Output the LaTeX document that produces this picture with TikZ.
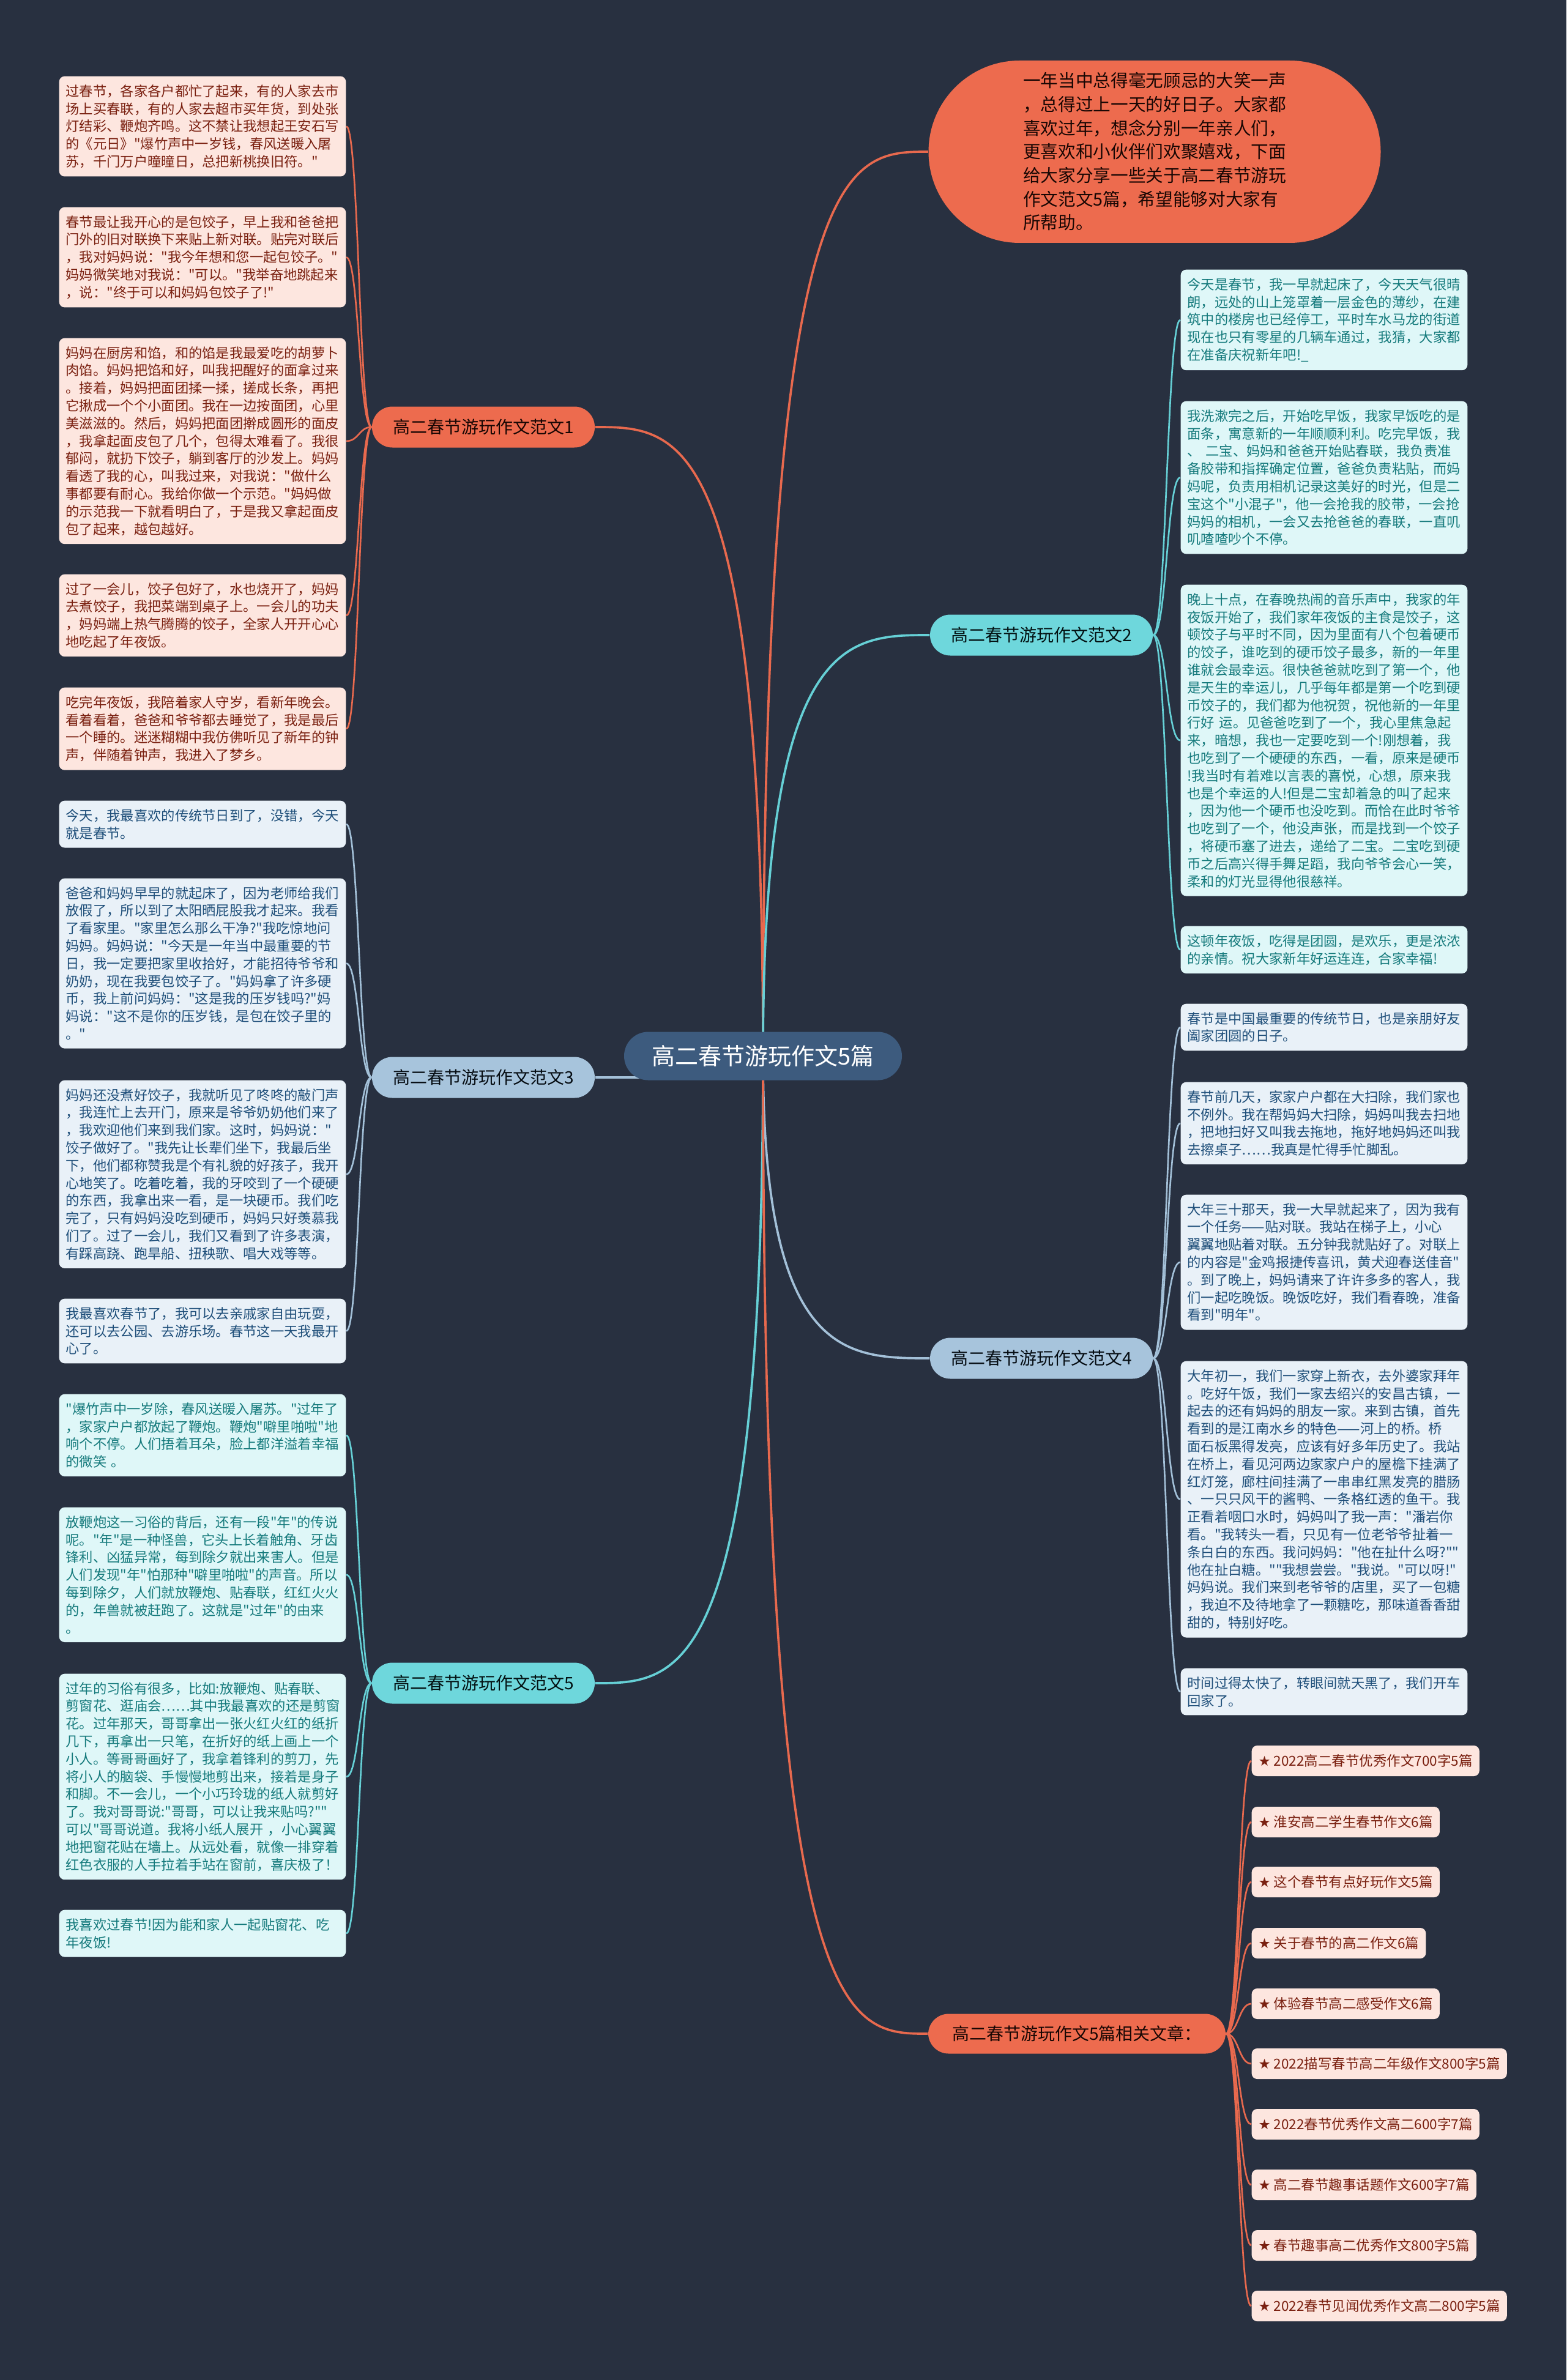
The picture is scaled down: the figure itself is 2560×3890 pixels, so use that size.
\documentclass[tikz,border=0pt]{standalone}
\usepackage{fontspec}
\setmainfont{Noto Sans CJK SC}[Ligatures=TeXOff]
\newfontfamily\symfont{DejaVu Sans}
\usetikzlibrary{calc}
\pgfdeclarelayer{back}
\pgfdeclarelayer{bg}
\pgfsetlayers{back,bg,main}
\definecolor{bgc}{HTML}{283040}
\definecolor{rfill}{HTML}{FDE6DF}
\definecolor{rtext}{HTML}{7A2010}
\definecolor{bfill}{HTML}{E9F1F8}
\definecolor{btext}{HTML}{1F4F7A}
\definecolor{cfill}{HTML}{DFF7F8}
\definecolor{ctext}{HTML}{157A7C}
\definecolor{rmain}{HTML}{ED6B4E}
\definecolor{cmain}{HTML}{6ED7DC}
\definecolor{bmain}{HTML}{A7C4DC}
\definecolor{cent}{HTML}{3D5B7E}
\definecolor{rline}{HTML}{E8694E}
\definecolor{cline}{HTML}{66D0D6}
\definecolor{bline}{HTML}{A3C0D8}
\newcommand\bodyfont{\fontsize{6.69pt}{8.64pt}\selectfont}
\newcommand\branchfont{\fontsize{8.4pt}{10pt}\selectfont}
\newcommand\curvelink[3]{%
  \draw[#1] let \p1=(#2), \p2=(#3) in (\p1) .. controls ({0.5*\x1+0.5*\x2},\y1) and ({0.5*\x1+0.5*\x2},\y2) .. (\p2);}
\newcommand\centerlink[3]{%
  \draw[#1] let \p1=(#2), \p2=(#3) in (\p1) .. controls (\x1,\y2) and ({0.5*\x1+0.5*\x2},\y2) .. (\p2);}
\tikzset{
  box/.style={anchor=north west, rounded corners=2.7pt, text width=134pt, inner xsep=3.3pt, inner ysep=4.1pt, align=left, font=\bodyfont},
  rbox/.style={box, fill=rfill, text=rtext},
  bbox/.style={box, fill=bfill, text=btext},
  cbox/.style={box, fill=cfill, text=ctext},
  branch/.style={rounded corners=10pt, minimum width=109.2pt, minimum height=20.1pt, font=\branchfont, inner sep=0pt},
  item/.style={anchor=west, fill=rfill, text=rtext, rounded corners=2.7pt, minimum height=15pt, inner xsep=3.3pt, inner ysep=0pt, font=\fontsize{6.75pt}{8pt}\selectfont},
  link/.style={line width=1.1pt},
  sublink/.style={line width=0.8pt},
}
\begin{document}
\begin{tikzpicture}[x=0.3pt,y=-0.3pt]
\begin{pgfonlayer}{back}
\fill[bgc] (0,0) rectangle (2560,3890);
\end{pgfonlayer}
\useasboundingbox (0,0) rectangle (2560,3890);

% centre and branches
\node[rounded corners=11.8pt, fill=cent, text=white, minimum width=136.2pt, minimum height=23.7pt, inner sep=0pt, font=\fontsize{11.4pt}{13pt}\selectfont] (c) at (1247,1726) {高二春节游玩作文5篇};
\node[rounded corners=44.7pt, fill=rmain, text=black!80!rtext, minimum width=221.7pt, minimum height=89.4pt, align=left, font=\fontsize{8.6pt}{11.6pt}\selectfont] (e) at (1887,248) {一年当中总得毫无顾忌的大笑一声\\，总得过上一天的好日子。大家都\\喜欢过年，想念分别一年亲人们，\\更喜欢和小伙伴们欢聚嬉戏，下面\\给大家分享一些关于高二春节游玩\\作文范文5篇，希望能够对大家有\\所帮助。};
\node[branch, fill=rmain, text=black!80!rtext] (b1) at (790,698) {高二春节游玩作文范文1};
\node[branch, fill=cmain, text=black!85!ctext] (b2) at (1702,1038) {高二春节游玩作文范文2};
\node[branch, fill=bmain, text=black!85!btext] (b3) at (790,1761) {高二春节游玩作文范文3};
\node[branch, fill=bmain, text=black!85!btext] (b4) at (1702,2220) {高二春节游玩作文范文4};
\node[branch, fill=cmain, text=black!85!ctext] (b5) at (790,2751) {高二春节游玩作文范文5};
\node[branch, fill=rmain, text=black!80!rtext, minimum width=145.8pt, minimum height=19.5pt] (rel) at (1760,3324) {高二春节游玩作文5篇相关文章：};

% left column
\node[rbox] (l1) at (96,124) {过春节，各家各户都忙了起来，有的人家去市\\场上买春联，有的人家去超市买年货，到处张\\灯结彩、鞭炮齐鸣。这不禁让我想起王安石写\\的《元日》"爆竹声中一岁钱，春风送暖入屠\\苏，千门万户曈曈日，总把新桃换旧符。"};
\node[rbox] (l2) at (96,338) {春节最让我开心的是包饺子，早上我和爸爸把\\门外的旧对联换下来贴上新对联。贴完对联后\\，我对妈妈说："我今年想和您一起包饺子。"\\妈妈微笑地对我说："可以。"我举奋地跳起来\\，说："终于可以和妈妈包饺子了!"};
\node[rbox] (l3) at (96,552) {妈妈在厨房和馅，和的馅是我最爱吃的胡萝卜\\肉馅。妈妈把馅和好，叫我把醒好的面拿过来\\。接着，妈妈把面团揉一揉，搓成长条，再把\\它揪成一个个小面团。我在一边按面团，心里\\美滋滋的。然后，妈妈把面团擀成圆形的面皮\\，我拿起面皮包了几个，包得太难看了。我很\\郁闷，就扔下饺子，躺到客厅的沙发上。妈妈\\看透了我的心，叫我过来，对我说："做什么\\事都要有耐心。我给你做一个示范。"妈妈做\\的示范我一下就看明白了，于是我又拿起面皮\\包了起来，越包越好。};
\node[rbox] (l4) at (96,938) {过了一会儿，饺子包好了，水也烧开了，妈妈\\去煮饺子，我把菜端到桌子上。一会儿的功夫\\，妈妈端上热气腾腾的饺子，全家人开开心心\\地吃起了年夜饭。};
\node[rbox] (l5) at (96,1123) {吃完年夜饭，我陪着家人守岁，看新年晚会。\\看着看着，爸爸和爷爷都去睡觉了，我是最后\\一个睡的。迷迷糊糊中我仿佛听见了新年的钟\\声，伴随着钟声，我进入了梦乡。};
\node[bbox] (l6) at (96,1308) {今天，我最喜欢的传统节日到了，没错，今天\\就是春节。};
\node[bbox] (l7) at (96,1435) {爸爸和妈妈早早的就起床了，因为老师给我们\\放假了，所以到了太阳晒屁股我才起来。我看\\了看家里。"家里怎么那么干净?"我吃惊地问\\妈妈。妈妈说："今天是一年当中最重要的节\\日，我一定要把家里收拾好，才能招待爷爷和\\奶奶，现在我要包饺子了。"妈妈拿了许多硬\\币，我上前问妈妈："这是我的压岁钱吗?"妈\\妈说："这不是你的压岁钱，是包在饺子里的\\。"};
\node[bbox] (l8) at (96,1765) {妈妈还没煮好饺子，我就听见了咚咚的敲门声\\，我连忙上去开门，原来是爷爷奶奶他们来了\\，我欢迎他们来到我们家。这时，妈妈说："\\饺子做好了。"我先让长辈们坐下，我最后坐\\下，他们都称赞我是个有礼貌的好孩子，我开\\心地笑了。吃着吃着，我的牙咬到了一个硬硬\\的东西，我拿出来一看，是一块硬币。我们吃\\完了，只有妈妈没吃到硬币，妈妈只好羡慕我\\们了。过了一会儿，我们又看到了许多表演，\\有踩高跷、跑旱船、扭秧歌、唱大戏等等。};
\node[bbox] (l9) at (96,2122) {我最喜欢春节了，我可以去亲戚家自由玩耍，\\还可以去公园、去游乐场。春节这一天我最开\\心了。};
\node[cbox] (l10) at (96,2278) {"爆竹声中一岁除，春风送暖入屠苏。"过年了\\，家家户户都放起了鞭炮。鞭炮"噼里啪啦"地\\响个不停。人们捂着耳朵，脸上都洋溢着幸福\\的微笑 。};
\node[cbox] (l11) at (96,2463) {放鞭炮这一习俗的背后，还有一段"年"的传说\\呢。"年"是一种怪兽，它头上长着触角、牙齿\\锋利、凶猛异常，每到除夕就出来害人。但是\\人们发现"年"怕那种"噼里啪啦"的声音。所以\\每到除夕，人们就放鞭炮、贴春联，红红火火\\的，年兽就被赶跑了。这就是"过年"的由来\\。};
\node[cbox] (l12) at (96,2735) {过年的习俗有很多，比如:放鞭炮、贴春联、\\剪窗花、逛庙会……其中我最喜欢的还是剪窗\\花。过年那天，哥哥拿出一张火红火红的纸折\\几下，再拿出一只笔，在折好的纸上画上一个\\小人。等哥哥画好了，我拿着锋利的剪刀，先\\将小人的脑袋、手慢慢地剪出来，接着是身子\\和脚。不一会儿，一个小巧玲珑的纸人就剪好\\了。我对哥哥说:"哥哥，可以让我来贴吗?""\\可以"哥哥说道。我将小纸人展开~，小心翼翼\\地把窗花贴在墙上。从远处看，就像一排穿着\\红色衣服的人手拉着手站在窗前，喜庆极了！};
\node[cbox] (l13) at (96,3121) {我喜欢过春节!因为能和家人一起贴窗花、吃\\年夜饭!};

% right column
\node[cbox] (r1) at (1929,440) {今天是春节，我一早就起床了，今天天气很晴\\朗，远处的山上笼罩着一层金色的薄纱，在建\\筑中的楼房也已经停工，平时车水马龙的街道\\现在也只有零星的几辆车通过，我猜，大家都\\在准备庆祝新年吧!\_};
\node[cbox] (r2) at (1929,655) {我洗漱完之后，开始吃早饭，我家早饭吃的是\\面条，寓意新的一年顺顺利利。吃完早饭，我\\、~二宝、妈妈和爸爸开始贴春联，我负责准\\备胶带和指挥确定位置，爸爸负责粘贴，而妈\\妈呢，负责用相机记录这美好的时光，但是二\\宝这个"小混子"，他一会抢我的胶带，一会抢\\妈妈的相机，一会又去抢爸爸的春联，一直叽\\叽喳喳吵个不停。};
\node[cbox] (r3) at (1929,955) {晚上十点，在春晚热闹的音乐声中，我家的年\\夜饭开始了，我们家年夜饭的主食是饺子，这\\顿饺子与平时不同，因为里面有八个包着硬币\\的饺子，谁吃到的硬币饺子最多，新的一年里\\谁就会最幸运。很快爸爸就吃到了第一个，他\\是天生的幸运儿，几乎每年都是第一个吃到硬\\币饺子的，我们都为他祝贺，祝他新的一年里\\行好~运。见爸爸吃到了一个，我心里焦急起\\来，暗想，我也一定要吃到一个!刚想着，我\\也吃到了一个硬硬的东西，一看，原来是硬币\\!我当时有着难以言表的喜悦，心想，原来我\\也是个幸运的人!但是二宝却着急的叫了起来\\，因为他一个硬币也没吃到。而恰在此时爷爷\\也吃到了一个，他没声张，而是找到一个饺子\\，将硬币塞了进去，递给了二宝。二宝吃到硬\\币之后高兴得手舞足蹈，我向爷爷会心一笑，\\柔和的灯光显得他很慈祥。};
\node[cbox] (r4) at (1929,1513) {这顿年夜饭，吃得是团圆，是欢乐，更是浓浓\\的亲情。祝大家新年好运连连，合家幸福!};
\node[bbox] (r5) at (1929,1640) {春节是中国最重要的传统节日，也是亲朋好友\\阖家团圆的日子。};
\node[bbox] (r6) at (1929,1768) {春节前几天，家家户户都在大扫除，我们家也\\不例外。我在帮妈妈大扫除，妈妈叫我去扫地\\，把地扫好又叫我去拖地，拖好地妈妈还叫我\\去擦桌子……我真是忙得手忙脚乱。};
\node[bbox] (r7) at (1929,1952) {大年三十那天，我一大早就起来了，因为我有\\一个任务——贴对联。我站在梯子上，小心\\翼翼地贴着对联。五分钟我就贴好了。对联上\\的内容是"金鸡报捷传喜讯，黄犬迎春送佳音"\\。到了晚上，妈妈请来了许许多多的客人，我\\们一起吃晚饭。晚饭吃好，我们看春晚，准备\\看到"明年"。};
\node[bbox] (r8) at (1929,2224) {大年初一，我们一家穿上新衣，去外婆家拜年\\。吃好午饭，我们一家去绍兴的安昌古镇，一\\起去的还有妈妈的朋友一家。来到古镇，首先\\看到的是江南水乡的特色——河上的桥。桥\\面石板黑得发亮，应该有好多年历史了。我站\\在桥上，看见河两边家家户户的屋檐下挂满了\\红灯笼，廊柱间挂满了一串串红黑发亮的腊肠\\、一只只风干的酱鸭、一条格红透的鱼干。我\\正看着咽口水时，妈妈叫了我一声："潘岩你\\看。"我转头一看，只见有一位老爷爷扯着一\\条白白的东西。我问妈妈："他在扯什么呀?""\\他在扯白糖。""我想尝尝。"我说。"可以呀!"\\妈妈说。我们来到老爷爷的店里，买了一包糖\\，我迫不及待地拿了一颗糖吃，那味道香香甜\\甜的，特别好吃。};
\node[bbox] (r9) at (1929,2726) {时间过得太快了，转眼间就天黑了，我们开车\\回家了。};

% related items
\node[item] (k1) at (2045,2878) {{\symfont ★} 2022高二春节优秀作文700字5篇};
\node[item] (k2) at (2045,2978) {{\symfont ★} 淮安高二学生春节作文6篇};
\node[item] (k3) at (2045,3076) {{\symfont ★} 这个春节有点好玩作文5篇};
\node[item] (k4) at (2045,3176) {{\symfont ★} 关于春节的高二作文6篇};
\node[item] (k5) at (2045,3275) {{\symfont ★} 体验春节高二感受作文6篇};
\node[item] (k6) at (2045,3373) {{\symfont ★} 2022描写春节高二年级作文800字5篇};
\node[item] (k7) at (2045,3472) {{\symfont ★} 2022春节优秀作文高二600字7篇};
\node[item] (k8) at (2045,3571) {{\symfont ★} 高二春节趣事话题作文600字7篇};
\node[item] (k9) at (2045,3670) {{\symfont ★} 春节趣事高二优秀作文800字5篇};
\node[item] (k10) at (2045,3769) {{\symfont ★} 2022春节见闻优秀作文高二800字5篇};

% connectors
\begin{pgfonlayer}{bg}
\centerlink{link,rline}{c.center}{e.west}
\centerlink{link,rline}{c.center}{b1.east}
\centerlink{link,cline}{c.center}{b2.west}
\draw[link,bline] (c.center) -- (c.center |- b3.east) -- (b3.east);
\centerlink{link,bline}{c.center}{b4.west}
\centerlink{link,cline}{c.center}{b5.east}
\centerlink{link,rline}{c.center}{rel.west}
\foreach \nm in {l1,l2,l3,l4,l5}{\curvelink{sublink,rline}{b1.west}{\nm.east}}
\foreach \nm in {l6,l7,l8,l9}{\curvelink{sublink,bline}{b3.west}{\nm.east}}
\foreach \nm in {l10,l11,l12,l13}{\curvelink{sublink,cline}{b5.west}{\nm.east}}
\foreach \nm in {r1,r2,r3,r4}{\curvelink{sublink,cline}{b2.east}{\nm.west}}
\foreach \nm in {r5,r6,r7,r8,r9}{\curvelink{sublink,bline}{b4.east}{\nm.west}}
\foreach \nm in {k1,k2,k3,k4,k5,k6,k7,k8,k9,k10}{\curvelink{sublink,rline}{rel.east}{\nm.west}}
\end{pgfonlayer}
\end{tikzpicture}
\end{document}
